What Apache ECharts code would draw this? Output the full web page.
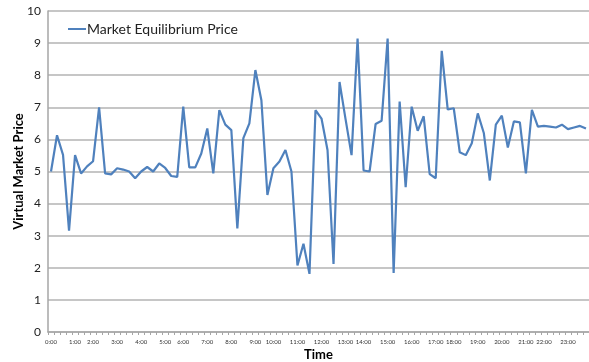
<!DOCTYPE html>
<html>
<head>
<meta charset="utf-8">
<script src="https://cdn.jsdelivr.net/npm/echarts@6/dist/echarts.min.js"></script>
<style>
  html, body { margin: 0; padding: 0; background: #fff; }
  #chart { width: 589px; height: 362px; }
</style>
</head>
<body>
<div id="chart"></div>
<script>
// sample times, one every 16 minutes
const times = [
  '0:00','0:16','0:32','0:48','1:04','1:20','1:36','1:52','2:08','2:24',
  '2:40','2:56','3:12','3:28','3:44','4:00','4:16','4:32','4:48','5:04',
  '5:20','5:36','5:52','6:08','6:24','6:40','6:56','7:12','7:28','7:44',
  '8:00','8:16','8:32','8:48','9:04','9:20','9:36','9:52','10:08','10:24',
  '10:40','10:56','11:12','11:28','11:44','12:00','12:16','12:32','12:48','13:04',
  '13:20','13:36','13:52','14:08','14:24','14:40','14:56','15:12','15:28','15:44',
  '16:00','16:16','16:32','16:48','17:04','17:20','17:36','17:52','18:08','18:24',
  '18:40','18:56','19:12','19:28','19:44','20:00','20:16','20:32','20:48','21:04',
  '21:20','21:36','21:52','22:08','22:24','22:40','22:56','23:12','23:28','23:44'
];

// which samples carry an hour label, and the label shown there
const hourIdx = [0, 4, 7, 11, 15, 19, 22, 26, 30, 34, 37, 41, 45, 49, 52, 56, 60, 64, 67, 71, 75, 79, 82, 86];
const hourLabels = ['0:00','1:00','2:00','3:00','4:00','5:00','6:00','7:00','8:00','9:00','10:00','11:00',
  '12:00','13:00','14:00','15:00','16:00','17:00','18:00','19:00','20:00','21:00','22:00','23:00'];

const price = [
  5.00, 6.13, 5.52, 3.16, 5.51, 4.94, 5.16, 5.32, 7.00, 4.94,
  4.91, 5.10, 5.06, 5.00, 4.79, 5.00, 5.14, 5.00, 5.25, 5.11,
  4.86, 4.83, 7.02, 5.13, 5.13, 5.56, 6.34, 4.94, 6.91, 6.46,
  6.29, 3.23, 6.04, 6.50, 8.16, 7.22, 4.27, 5.10, 5.31, 5.67,
  5.00, 2.07, 2.75, 1.81, 6.91, 6.65, 5.67, 2.12, 7.79, 6.63,
  5.51, 9.14, 5.03, 5.00, 6.48, 6.58, 9.14, 1.84, 7.18, 4.51,
  7.02, 6.27, 6.72, 4.92, 4.79, 8.76, 6.93, 6.97, 5.60, 5.51,
  5.88, 6.81, 6.20, 4.72, 6.46, 6.74, 5.75, 6.56, 6.53, 4.94,
  6.92, 6.40, 6.42, 6.40, 6.37, 6.46, 6.32, 6.37, 6.42, 6.34
];

const yTicks = { min: 0, max: 10, interval: 1 };

const font = 'Lato, "Open Sans", sans-serif';
const chart = echarts.init(document.getElementById('chart'), null, { renderer: 'canvas' });

chart.setOption({
  animation: false,
  backgroundColor: '#fff',
  textStyle: { fontFamily: font },
  grid: { left: 48, right: 0, top: 11, bottom: 30, containLabel: false, outerBoundsMode: 'none' },
  legend: {
    left: 63,
    top: 17,
    itemWidth: 18,
    itemHeight: 10,
    itemGap: 4,
    textStyle: { fontFamily: font, fontSize: 14, color: '#222', padding: [0, 0, 0, -4] },
    data: [{ name: 'Market Equilibrium Price', icon: 'path://M0,5 L18,5 L18,7 L0,7 Z' }]
  },
  xAxis: {
    type: 'category',
    data: times,
    boundaryGap: true,
    name: 'Time',
    nameLocation: 'middle',
    nameMoveOverlap: false,
    nameGap: 16,
    nameTextStyle: { fontFamily: font, fontSize: 13, fontWeight: 'bold', color: '#000' },
    axisLine: { show: true, lineStyle: { color: '#a6a6a6', width: 1.5 } },
    axisTick: { show: true, interval: 0, length: 3, lineStyle: { color: '#a6a6a6' } },
    axisLabel: {
      interval: 0,
      margin: 7,
      fontSize: 6,
      color: '#333',
      fontFamily: font,
      formatter: (val, idx) => {
        const k = hourIdx.indexOf(idx);
        return k >= 0 ? hourLabels[k] : '';
      }
    },
    splitLine: { show: false }
  },
  yAxis: {
    type: 'value',
    min: yTicks.min,
    max: yTicks.max,
    interval: yTicks.interval,
    name: 'Virtual Market Price',
    nameLocation: 'middle',
    nameMoveOverlap: false,
    nameGap: 23,
    nameTextStyle: { fontFamily: font, fontSize: 13, fontWeight: 'bold', color: '#000' },
    axisLine: { show: true, lineStyle: { color: '#a6a6a6', width: 1.5 } },
    axisTick: { show: false },
    axisLabel: { fontSize: 12, color: '#222', margin: 7, fontFamily: font },
    splitLine: { show: true, lineStyle: { color: '#b3b3b3', width: 1.5 } }
  },
  series: [{
    name: 'Market Equilibrium Price',
    type: 'line',
    data: price,
    symbol: 'none',
    lineStyle: { color: '#4f81bd', width: 2.2 },
    itemStyle: { color: '#4f81bd' }
  }]
});
</script>
</body>
</html>
